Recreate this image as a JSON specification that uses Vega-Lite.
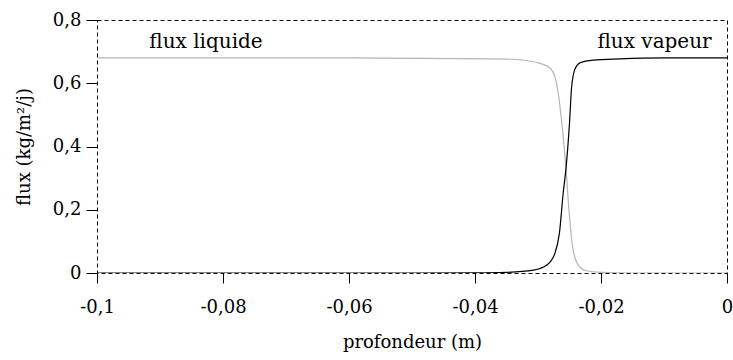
{
  "$schema": "https://vega.github.io/schema/vega-lite/v6.json",
  "autosize": {"type": "none"},
  "padding": {"left": 97, "top": 20, "right": 6, "bottom": 87},
  "width": 630,
  "height": 253,
  "background": "white",
  "config": {
    "view": {"stroke": "black", "strokeWidth": 1, "strokeDash": [4, 3]},
    "font": "DejaVu Serif",
    "axis": {
      "domain": false,
      "grid": false,
      "tickColor": "black",
      "tickWidth": 1,
      "labelColor": "black",
      "labelFont": "DejaVu Serif",
      "labelFontSize": 18,
      "titleFont": "DejaVu Serif",
      "titleFontSize": 18,
      "titleFontWeight": "normal",
      "titleColor": "black"
    }
  },
  "layer": [
    {
      "data": {
        "values": [
          {"x": -0.1, "flux": 0.68, "serie": "liquide"},
          {"x": -0.06, "flux": 0.68, "serie": "liquide"},
          {"x": -0.045, "flux": 0.678, "serie": "liquide"},
          {"x": -0.035, "flux": 0.676, "serie": "liquide"},
          {"x": -0.0323, "flux": 0.673, "serie": "liquide"},
          {"x": -0.0297, "flux": 0.663, "serie": "liquide"},
          {"x": -0.0281, "flux": 0.648, "serie": "liquide"},
          {"x": -0.0273, "flux": 0.62, "serie": "liquide"},
          {"x": -0.0268, "flux": 0.57, "serie": "liquide"},
          {"x": -0.0262, "flux": 0.47, "serie": "liquide"},
          {"x": -0.02556, "flux": 0.33, "serie": "liquide"},
          {"x": -0.025, "flux": 0.177, "serie": "liquide"},
          {"x": -0.0245, "flux": 0.082, "serie": "liquide"},
          {"x": -0.0236, "flux": 0.025, "serie": "liquide"},
          {"x": -0.0223, "flux": 0.007, "serie": "liquide"},
          {"x": -0.02, "flux": 0.002, "serie": "liquide"},
          {"x": -0.015, "flux": 0, "serie": "liquide"},
          {"x": 0, "flux": 0, "serie": "liquide"},
          {"x": -0.1, "flux": 0, "serie": "vapeur"},
          {"x": -0.05, "flux": 0, "serie": "vapeur"},
          {"x": -0.04, "flux": 0.0005, "serie": "vapeur"},
          {"x": -0.035, "flux": 0.002, "serie": "vapeur"},
          {"x": -0.0307, "flux": 0.009, "serie": "vapeur"},
          {"x": -0.0286, "flux": 0.025, "serie": "vapeur"},
          {"x": -0.0273, "flux": 0.063, "serie": "vapeur"},
          {"x": -0.0266, "flux": 0.126, "serie": "vapeur"},
          {"x": -0.026, "flux": 0.253, "serie": "vapeur"},
          {"x": -0.02556, "flux": 0.33, "serie": "vapeur"},
          {"x": -0.025, "flux": 0.474, "serie": "vapeur"},
          {"x": -0.02466, "flux": 0.589, "serie": "vapeur"},
          {"x": -0.0241, "flux": 0.647, "serie": "vapeur"},
          {"x": -0.0233, "flux": 0.665, "serie": "vapeur"},
          {"x": -0.0212, "flux": 0.673, "serie": "vapeur"},
          {"x": -0.017, "flux": 0.677, "serie": "vapeur"},
          {"x": -0.01, "flux": 0.68, "serie": "vapeur"},
          {"x": 0, "flux": 0.68, "serie": "vapeur"}
        ]
      },
      "mark": {"type": "line", "interpolate": "monotone", "strokeWidth": 1.2, "clip": true},
      "encoding": {
        "x": {
          "field": "x", "type": "quantitative",
          "scale": {"domain": [-0.1, 0], "nice": false},
          "axis": {
            "title": "profondeur (m)",
            "values": [-0.1, -0.08, -0.06, -0.04, -0.02, 0],
            "labelExpr": "replace(toString(datum.value), '.', ',')",
            "tickSize": 10,
            "labelPadding": 15,
            "labelFlush": false,
            "labelOverlap": false,
            "titlePadding": 17
          }
        },
        "y": {
          "field": "flux", "type": "quantitative",
          "scale": {"domain": [0, 0.8], "nice": false},
          "axis": {
            "title": "flux (kg/m²/j)",
            "values": [0, 0.1, 0.2, 0.3, 0.4, 0.5, 0.6, 0.7, 0.8],
            "labelExpr": "round(datum.value * 10) % 2 == 0 ? replace(toString(datum.value), '.', ',') : ''",
            "tickSize": 11,
            "labelPadding": 5,
            "labelOverlap": false,
            "titlePadding": 19
          }
        },
        "color": {
          "field": "serie", "type": "nominal",
          "scale": {"domain": ["liquide", "vapeur"], "range": ["#b5b5b5", "#000000"]},
          "legend": null
        },
        "detail": {"field": "serie"}
      }
    },
    {
      "data": {
        "values": [
          {"x": -0.0827, "flux": 0.711, "label": "flux liquide"},
          {"x": -0.0115, "flux": 0.711, "label": "flux vapeur"}
        ]
      },
      "mark": {"type": "text", "font": "DejaVu Serif", "fontSize": 20, "baseline": "alphabetic", "align": "center", "color": "black"},
      "encoding": {
        "x": {"field": "x", "type": "quantitative"},
        "y": {"field": "flux", "type": "quantitative"},
        "text": {"field": "label"}
      }
    }
  ]
}
